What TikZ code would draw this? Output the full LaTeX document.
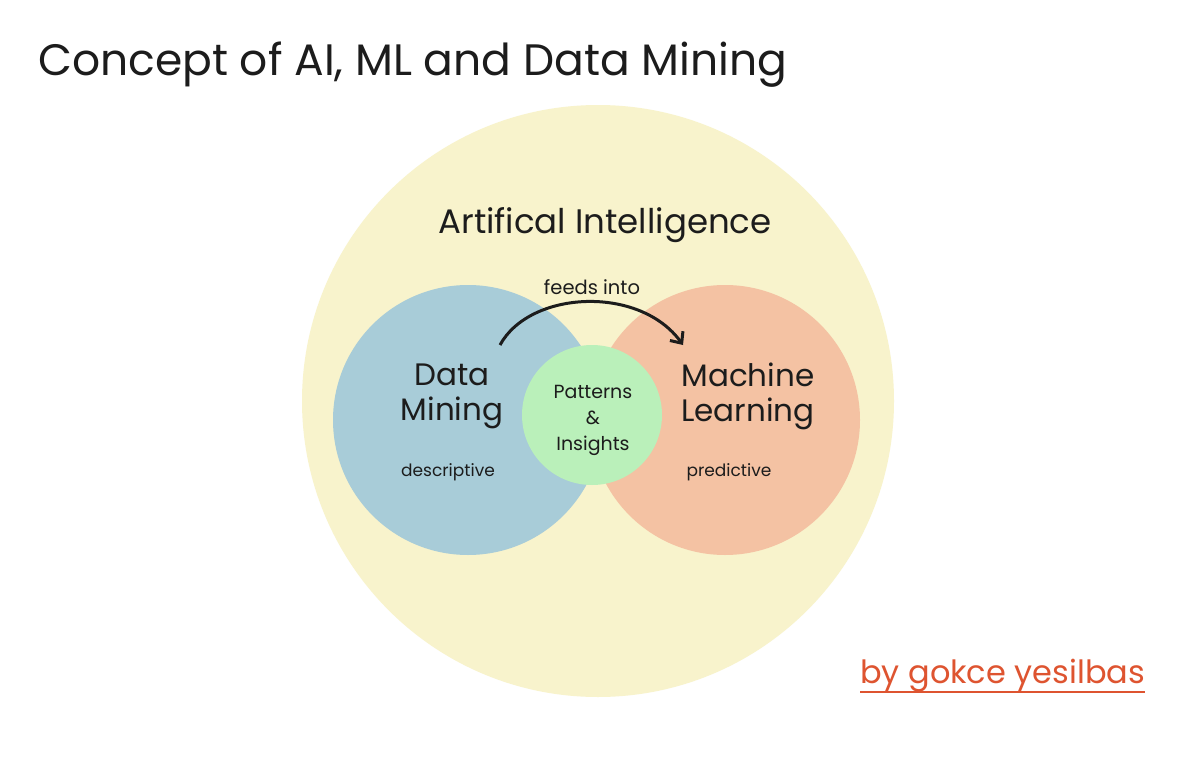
\documentclass[tikz,border=0pt]{standalone}
\usepackage{fontspec}
\setmainfont{Poppins}
\usetikzlibrary{arrows.meta}
\definecolor{aiyellow}{RGB}{248,243,204}
\definecolor{dmblue}{RGB}{168,204,216}
\definecolor{mlorange}{RGB}{244,194,163}
\definecolor{pigreen}{RGB}{186,240,186}
\definecolor{signred}{RGB}{222,84,48}
\definecolor{ink}{RGB}{28,28,28}

\begin{document}
\begin{tikzpicture}[x=1pt,y=-1pt,
    blob/.style={circle, inner sep=0pt, minimum size=#1},
    hand/.style={text=ink, align=center, inner sep=0pt},
    feeds/.style={line width=3pt, ink, -{Straight Barb[length=9pt,width=16pt,line width=3pt]}}]

        % Canvas
        \useasboundingbox[fill=white] (0,0) rectangle (1200,776);

        % Title
        \node[hand, anchor=base west, font=\fontsize{44}{48}\selectfont] (title) at (38,75) {Concept of AI, ML and Data Mining};

        % Circles
        \node[blob=592pt, fill=aiyellow] (ai) at (598,401) {};
        \node[blob=270pt, fill=dmblue] (dm) at (468,420) {};
        \node[blob=270pt, fill=mlorange] (ml) at (725,420) {};
        \node[blob=140pt, fill=pigreen] (pi) at (592,415) {};

        % Labels
        \node[hand, font=\fontsize{34}{34}\selectfont] (ailabel) at (605,225) {Artifical Intelligence};
        \node[hand, font=\fontsize{31}{35}\selectfont] (dmlabel) at (452,396) {Data\\Mining};
        \node[hand, font=\fontsize{31}{35}\selectfont] (mllabel) at (748,396) {Machine\\Learning};
        \node[hand, font=\fontsize{17}{26}\selectfont] (desc) at (448,472) {descriptive};
        \node[hand, font=\fontsize{17}{26}\selectfont] (pred) at (729,472) {predictive};
        \node[hand, font=\fontsize{19}{26}\selectfont] (pilabel) at (593,420) {Patterns\\\&\\Insights};

        % Arrow
        \coordinate (arrS) at (500,345);
        \coordinate (arrE) at (683,345);
        \draw[feeds] (arrS) .. controls (530,290) and (640,285) .. (arrE);
        \node[hand, font=\fontsize{19.5}{20}\selectfont] (feedlabel) at (592,287) {feeds into};

        % Signature
        \node[hand, text=signred, anchor=base west, font=\fontsize{32}{34}\selectfont] (sign) at (860,683) {by gokce yesilbas};
        \draw[signred, line width=1.5pt] (sign.base west) ++(0,9) -- ([yshift=-9pt]sign.base east);

    \end{tikzpicture}
\end{document}
